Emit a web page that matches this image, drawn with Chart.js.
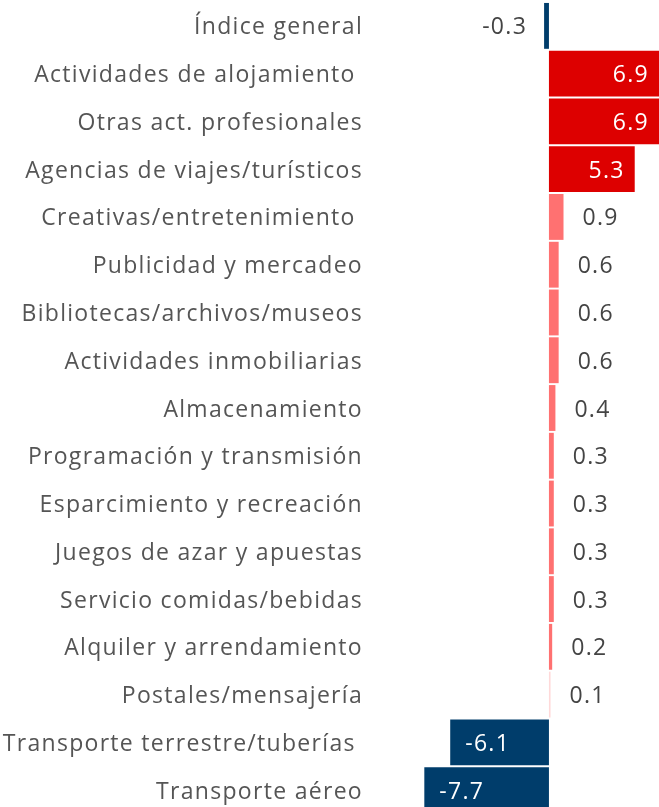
<!DOCTYPE html>
<html>
<head>
<meta charset="utf-8">
<script src="https://cdn.jsdelivr.net/npm/chart.js@4/dist/chart.umd.min.js"></script>
<style>
html,body{margin:0;padding:0;background:#fff;overflow:hidden;}
#wrap{width:659px;height:816px;position:relative;}
</style>
</head>
<body>
<div id="wrap"><canvas id="c" width="659" height="816"></canvas></div>
<script>
const categories = [
  "Índice general",
  "Actividades de alojamiento ",
  "Otras act. profesionales",
  "Agencias de viajes/turísticos",
  "Creativas/entretenimiento ",
  "Publicidad y mercadeo",
  "Bibliotecas/archivos/museos",
  "Actividades inmobiliarias",
  "Almacenamiento",
  "Programación y transmisión",
  "Esparcimiento y recreación",
  "Juegos de azar y apuestas",
  "Servicio comidas/bebidas",
  "Alquiler y arrendamiento",
  "Postales/mensajería",
  "Transporte terrestre/tuberías ",
  "Transporte aéreo"
];
const values = [-0.3, 6.9, 6.9, 5.3, 0.9, 0.6, 0.6, 0.6, 0.4, 0.3, 0.3, 0.3, 0.3, 0.2, 0.1, -6.1, -7.7];

const FONT = "'Open Sans', sans-serif";
const SPACING = '1.3px';
const barColors = values.map(v => v < 0 ? '#003d6b' : (v >= 5 ? '#dd0000' : (v <= 0.1 ? '#ffd9d9' : '#ff7171')));

const spacingPlugin = {
  id: 'spacing',
  beforeDraw(chart) { chart.ctx.letterSpacing = SPACING; }
};

const valueLabels = {
  id: 'valueLabels',
  afterDatasetsDraw(chart) {
    const ctx = chart.ctx;
    const meta = chart.getDatasetMeta(0);
    ctx.save();
    ctx.letterSpacing = SPACING;
    ctx.font = "23px " + FONT;
    ctx.textBaseline = 'middle';
    meta.data.forEach((bar, i) => {
      const v = values[i];
      const txt = v.toFixed(1);
      const inside = Math.abs(v) >= 5;
      let x;
      if (v >= 0) {
        if (inside) { ctx.fillStyle = '#ffffff'; ctx.textAlign = 'right'; x = Math.min(bar.x, chart.chartArea.right) - 10; }
        else { ctx.fillStyle = '#444444'; ctx.textAlign = 'left'; x = bar.x + 19; }
      } else {
        if (inside) { ctx.fillStyle = '#ffffff'; ctx.textAlign = 'left'; x = bar.x + 15; }
        else { ctx.fillStyle = '#444444'; ctx.textAlign = 'right'; x = bar.x - 17; }
      }
      ctx.fillText(txt, x, bar.y + 2);
    });
    ctx.restore();
  }
};

new Chart(document.getElementById('c'), {
  type: 'bar',
  data: {
    labels: categories,
    datasets: [{
      data: values,
      backgroundColor: barColors,
      borderWidth: 0,
      barPercentage: 0.96,
      categoryPercentage: 1.0
    }]
  },
  options: {
    indexAxis: 'y',
    responsive: false,
    animation: false,
    layout: { padding: { top: 2, bottom: 2, left: 0, right: 0 } },
    plugins: { legend: { display: false }, tooltip: { enabled: false } },
    scales: {
      x: {
        min: -10.5, max: 6.8,
        display: false,
        grid: { display: false }
      },
      y: {
        grid: { display: false, drawTicks: false },
        border: { display: false },
        ticks: { color: '#555555', font: { family: FONT, size: 23 }, padding: 16, labelOffset: 2, autoSkip: false },
        afterFit(scale) { scale.width = 379; scale.paddingTop = 0; scale.paddingBottom = 0; }
      }
    }
  },
  plugins: [spacingPlugin, valueLabels]
});
</script>
</body>
</html>
